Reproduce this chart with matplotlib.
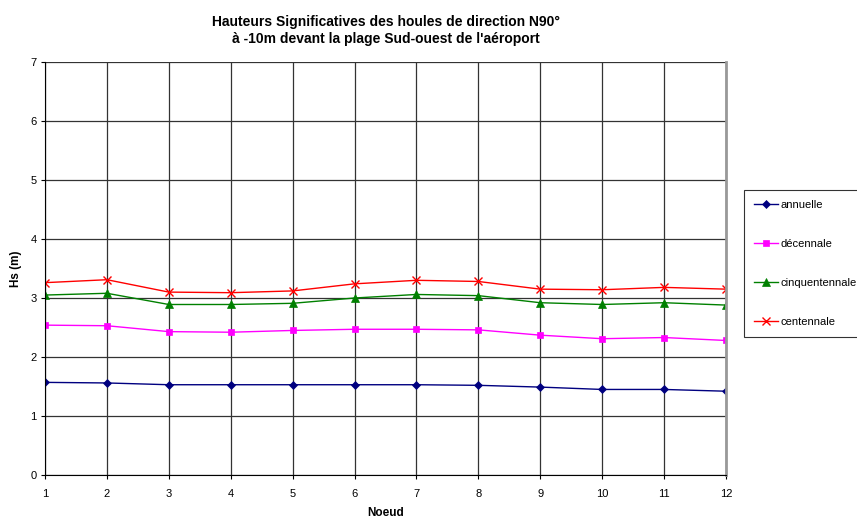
import matplotlib.pyplot as plt
import numpy as np

plt.rcParams['font.family'] = ['Liberation Sans', 'DejaVu Sans']

noeuds = list(range(1, 13))
annuelle = [1.57, 1.56, 1.53, 1.53, 1.53, 1.53, 1.53, 1.52, 1.49, 1.45, 1.45, 1.42]
decennale = [2.54, 2.53, 2.43, 2.42, 2.45, 2.47, 2.47, 2.46, 2.37, 2.31, 2.33, 2.28]
cinquantennale = [3.05, 3.08, 2.89, 2.89, 2.91, 3.00, 3.06, 3.04, 2.92, 2.89, 2.92, 2.88]
centennale = [3.26, 3.31, 3.10, 3.09, 3.12, 3.24, 3.30, 3.28, 3.15, 3.14, 3.18, 3.15]

fig = plt.figure(figsize=(8.57, 5.21), dpi=100)
ax = fig.add_axes([45 / 857, 1 - 475 / 521, (726 - 45) / 857, (475 - 62) / 521])

series = [
    (annuelle, 'annuelle', '#000080', 'D', 4),
    (decennale, 'décennale', '#FF00FF', 's', 5),
    (cinquantennale, 'cinquentennale', '#008000', '^', 5.5),
    (centennale, 'centennale', '#FF0000', 'x', 6),
]
for values, label, color, marker, ms in series:
    ax.plot(noeuds, values, color=color, marker=marker, markersize=ms,
            linewidth=1, label=label, markeredgewidth=1 if marker == 'x' else 0.5)

ax.set_xlim(1, 12)
ax.set_ylim(0, 7)
ax.set_xticks(noeuds)
ax.set_yticks(range(0, 8))
ax.grid(True, color='#333333', linewidth=0.9)
ax.tick_params(labelsize=8, length=3, color='black')
ax.tick_params(axis='y', pad=3)
ax.tick_params(axis='x', pad=7)
ax.spines['top'].set_visible(False)
ax.spines['right'].set_color('#999999')
ax.spines['right'].set_linewidth(2)

ax.set_title("Hauteurs Significatives des houles de direction N90°\nà -10m devant la plage Sud-ouest de l'aéroport",
             fontsize=10, fontweight='bold', pad=14)
ax.set_xlabel('Noeud', fontsize=8.5, fontweight='bold', labelpad=6)
ax.set_ylabel('Hs (m)', fontsize=8.5, fontweight='bold', labelpad=6)

leg = fig.legend(loc='upper left', bbox_to_anchor=(744 / 857, 1 - 190 / 521),
                 fontsize=8, frameon=True, fancybox=False, edgecolor='black',
                 labelspacing=2.6, handlelength=2.2, handletextpad=0.2,
                 borderpad=0.9, borderaxespad=0)
leg.get_frame().set_linewidth(0.8)

plt.savefig('out.png', dpi=100)
plt.close()
